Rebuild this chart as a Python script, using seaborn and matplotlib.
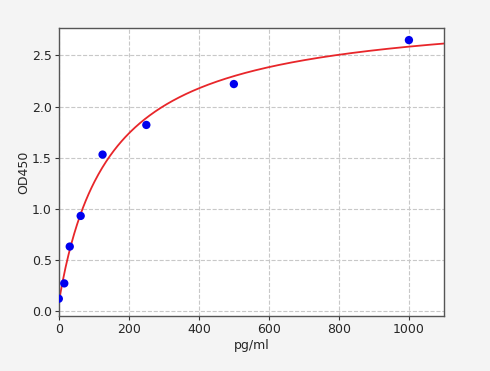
import numpy as np
import pandas as pd
import matplotlib
matplotlib.use("Agg")
import matplotlib.pyplot as plt
import seaborn as sns

conc = [0, 15.6, 31.25, 62.5, 125, 250, 500, 1000]
od = [0.12, 0.27, 0.63, 0.93, 1.53, 1.82, 2.22, 2.65]
xticks = [0, 200, 400, 600, 800, 1000]
yticks = [0.0, 0.5, 1.0, 1.5, 2.0, 2.5]

x = np.array(conc, float)
y = np.array(od, float)

# 4PL fit: grid over slope/midpoint, linear solve for asymptotes
best = None
for b in np.linspace(0.5, 2.0, 61):
    for c in np.geomspace(30, 3000, 200):
        g = 1.0 / (1.0 + (x / c) ** b)
        A = np.column_stack([g, 1 - g])
        coef, *_ = np.linalg.lstsq(A, y, rcond=None)
        r = np.sum((A @ coef - y) ** 2)
        if best is None or r < best[0]:
            best = (r, b, c, coef[0], coef[1])
_, b, c, a, d = best
xs = np.linspace(0, 1100, 400)
ys = d + (a - d) / (1 + (xs / c) ** b)

pts = pd.DataFrame({"pg/ml": conc, "OD450": od})
curve = pd.DataFrame({"pg/ml": xs, "OD450": ys})

sns.set_style("white")
fig = plt.figure(figsize=(4.9, 3.71), dpi=100, facecolor="#f4f4f4")
ax = fig.add_axes([0.120, 0.148, 0.786, 0.777])
ax.set_facecolor("white")
sns.lineplot(data=curve, x="pg/ml", y="OD450", ax=ax, color="#e8262a", linewidth=1.3, zorder=2)
sns.scatterplot(data=pts, x="pg/ml", y="OD450", ax=ax, color="#0000ee", s=36, edgecolor="none", zorder=3)
ax.set_xlim(0, 1100)
ax.set_ylim(-0.05, 2.77)
ax.set_xticks(xticks)
ax.set_yticks(yticks)
ax.set_yticklabels([f"{v:.1f}" for v in yticks])
ax.grid(True, linestyle="--", color="#c8c8c8", linewidth=0.8)
ax.set_axisbelow(True)
for s in ax.spines.values():
    s.set_color("#555555")
    s.set_linewidth(1.0)
ax.tick_params(axis="both", which="both", length=3, pad=2, color="#333333", labelsize=9, bottom=True, left=True)
ax.set_xlabel("pg/ml", fontsize=9, labelpad=2)
ax.set_ylabel("OD450", fontsize=9, labelpad=1)
fig.savefig("out.png", dpi=100, facecolor=fig.get_facecolor())
